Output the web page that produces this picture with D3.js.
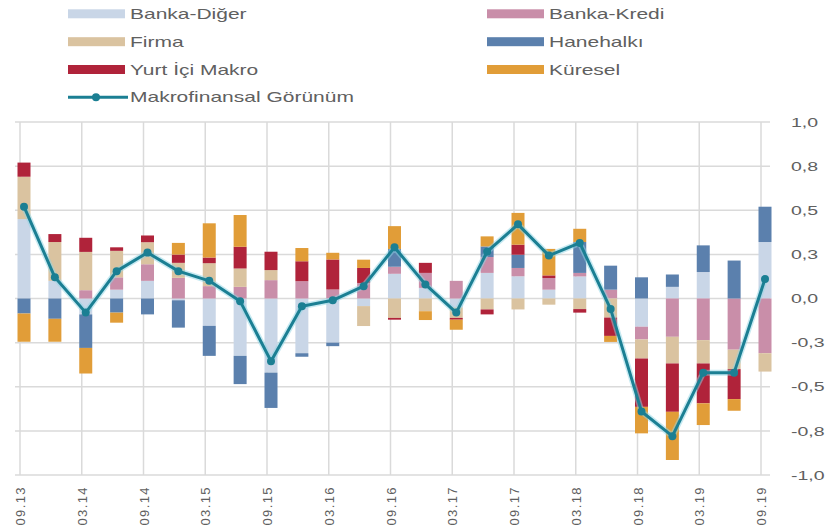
<!DOCTYPE html>
<html>
<head>
<meta charset="utf-8">
<script src="https://cdn.jsdelivr.net/npm/d3@7"></script>
<style>
  body { margin: 0; background: #ffffff; }
  svg { display: block; font-family: "Liberation Sans", Arial, sans-serif; }
</style>
</head>
<body>
<svg id="chart" width="831" height="531"></svg>
<script>
// Quarterly periods (month.year)
const periods = ["09.13","12.13","03.14","06.14","09.14","12.14","03.15","06.15","09.15","12.15",
                 "03.16","06.16","09.16","12.16","03.17","06.17","09.17","12.17","03.18","06.18",
                 "09.18","12.18","03.19","06.19","09.19"];

// Contributions of each component
const bankaDiger = [0.45,0.10,-0.09,0.05,0.10,-0.01,-0.155,-0.325,-0.42,-0.31,-0.25,-0.043,0.14,0.06,-0.05,0.145,0.126,0.05,0.125,0,-0.16,0.066,0.15,0,0.32];
const bankaKredi = [0,0,0.047,0.07,0.094,0.117,0.07,0.066,0.104,0.098,0.051,0.088,0.04,0.085,0.10,0.09,0.047,0.066,0.02,0.05,-0.072,-0.217,-0.236,-0.29,-0.31];
const firma      = [0.24,0.22,0.217,0.15,0.125,0.085,0.13,0.104,0.057,0,0,-0.113,-0.11,-0.072,-0.06,-0.062,-0.062,-0.035,-0.06,-0.108,-0.108,-0.151,-0.132,-0.11,-0.104];
const hanehalki  = [-0.085,-0.115,-0.19,-0.08,-0.09,-0.155,-0.17,-0.16,-0.2,-0.02,-0.02,0,0.10,0,0,0.06,0.075,0,0.175,0.136,0.12,0.07,0.151,0.215,0.2];
const yurtIci    = [0.08,0.045,0.08,0.02,0.038,0.047,0.032,0.123,0.104,0.113,0.17,0.085,-0.01,0.057,-0.01,-0.028,0.057,0.015,-0.02,-0.104,-0.274,-0.274,-0.226,-0.17,0];
const kuresel    = [-0.16,-0.13,-0.145,-0.057,0,0.066,0.194,0.18,0,0.075,0.038,0.047,0.13,-0.05,-0.057,0.057,0.18,0.15,0.075,-0.034,-0.15,-0.273,-0.123,-0.066,0];

// Composite indicator
const makrofinansal = [0.52,0.12,-0.08,0.155,0.26,0.155,0.10,-0.015,-0.355,-0.044,-0.01,0.07,0.29,0.08,-0.08,0.265,0.42,0.243,0.315,-0.06,-0.64,-0.78,-0.42,-0.42,0.11];

// Axis ticks
const yTickValues = [1, 0.75, 0.5, 0.25, 0, -0.25, -0.5, -0.75, -1];
const yTickLabels = ["1,0","0,8","0,5","0,3","0,0","-0,3","-0,5","-0,8","-1,0"];
const xTickLabels = ["09.13","03.14","09.14","03.15","09.15","03.16","09.16","03.17","09.17","03.18","09.18","03.19","09.19"];

const seriesNames = ["Banka-Diğer","Banka-Kredi","Firma","Hanehalkı","Yurt İçi Makro","Küresel"];
const seriesValues = [bankaDiger, bankaKredi, firma, hanehalki, yurtIci, kuresel];
const seriesColors = ["#c9d6e7","#c98ea9","#dac3a0","#5b80ad","#b0233a","#e19d38"];
const lineName = "Makrofinansal Görünüm";
const lineColor = "#1b7f93";

const rows = periods.map((p, i) => {
  const r = { period: p };
  seriesNames.forEach((n, k) => { r[n] = seriesValues[k][i]; });
  return r;
});

const svg = d3.select("#chart");
const textColor = "#606060";
const gridColor = "#dadada";

const x = d3.scalePoint().domain(periods).range([24, 765]);
const y = d3.scaleLinear().domain([-1, 1]).range([475, 122]);
const gridShift = -4;
const barWidth = 13;

// Horizontal gridlines
svg.append("g").selectAll("line").data(yTickValues).join("line")
  .attr("x1", 15).attr("x2", 770)
  .attr("y1", d => y(d)).attr("y2", d => y(d))
  .attr("stroke", gridColor).attr("stroke-width", 1.5);

// Vertical gridlines at labelled periods
svg.append("g").selectAll("line").data(xTickLabels).join("line")
  .attr("x1", d => x(d) + gridShift).attr("x2", d => x(d) + gridShift)
  .attr("y1", y(1)).attr("y2", y(-1))
  .attr("stroke", gridColor).attr("stroke-width", 1.5);

// Stacked bars (positive up, negative down)
const stack = d3.stack().keys(seriesNames).offset(d3.stackOffsetDiverging);
const stacked = stack(rows);

svg.append("g").selectAll("g").data(stacked).join("g")
  .attr("fill", (d, i) => seriesColors[i])
  .selectAll("rect").data(d => d).join("rect")
  .attr("x", d => x(d.data.period) - barWidth / 2)
  .attr("width", barWidth)
  .attr("y", d => y(Math.max(d[0], d[1])))
  .attr("height", d => Math.abs(y(d[0]) - y(d[1])));

// Composite line with markers
const lineData = periods.map((p, i) => ({ period: p, value: makrofinansal[i] }));
const line = d3.line().x(d => x(d.period)).y(d => y(d.value));

svg.append("path").datum(lineData)
  .attr("d", line).attr("fill", "none")
  .attr("stroke", "#8fd6e6").attr("stroke-width", 6).attr("stroke-opacity", 0.5)
  .attr("stroke-linejoin", "round");
svg.append("path").datum(lineData)
  .attr("d", line).attr("fill", "none")
  .attr("stroke", lineColor).attr("stroke-width", 3)
  .attr("stroke-linejoin", "round");
svg.append("g").selectAll("circle").data(lineData).join("circle")
  .attr("cx", d => x(d.period)).attr("cy", d => y(d.value))
  .attr("r", 4).attr("fill", lineColor);

// Right value axis
const yScaleX = 1.5;
const yAxis = svg.append("g")
  .attr("transform", "translate(784,0)")
  .call(d3.axisRight(y).tickValues(yTickValues)
        .tickFormat((d, i) => yTickLabels[i]).tickSize(0).tickPadding(7));
yAxis.select(".domain").remove();
yAxis.selectAll("text")
  .attr("fill", textColor).attr("font-size", 13)
  .attr("font-family", "Liberation Sans, Arial, sans-serif")
  .attr("x", 7 / yScaleX)
  .attr("transform", `scale(${yScaleX},1)`);

// Bottom category axis with rotated labels
const xAxis = svg.append("g")
  .attr("transform", `translate(${gridShift},${y(-1)})`)
  .call(d3.axisBottom(x).tickValues(xTickLabels).tickSize(0).tickPadding(0));
xAxis.select(".domain").remove();
xAxis.selectAll("text")
  .attr("fill", textColor).attr("font-size", 13)
  .attr("font-family", "Liberation Sans, Arial, sans-serif")
  .attr("letter-spacing", 1.4)
  .attr("text-anchor", "end")
  .attr("y", 0).attr("x", -11).attr("dy", "0.35em")
  .attr("transform", "rotate(-90)");

// Legend
const legendItems = seriesNames.map((n, i) => ({
  name: n, color: seriesColors[i], col: i % 2, row: Math.floor(i / 2), type: "bar"
}));
legendItems.push({ name: lineName, color: lineColor, col: 0, row: 3, type: "line" });

const colX = [68, 487];
const rowY = [13.8, 41.7, 69.5, 97.3];
const legend = svg.append("g");
legendItems.forEach(it => {
  const gx = colX[it.col], gy = rowY[it.row];
  if (it.type === "bar") {
    legend.append("rect").attr("x", gx).attr("y", gy - 4.5)
      .attr("width", 57).attr("height", 9).attr("fill", it.color);
  } else {
    legend.append("line").attr("x1", gx).attr("x2", gx + 60)
      .attr("y1", gy).attr("y2", gy)
      .attr("stroke", it.color).attr("stroke-width", 3);
    legend.append("circle").attr("cx", gx + 28).attr("cy", gy)
      .attr("r", 4).attr("fill", it.color);
  }
  legend.append("text")
    .attr("transform", `translate(${gx + 62},${gy}) scale(1.5,1)`)
    .attr("dy", "0.36em")
    .attr("font-size", 14).attr("fill", textColor)
    .text(it.name);
});
</script>
</body>
</html>
